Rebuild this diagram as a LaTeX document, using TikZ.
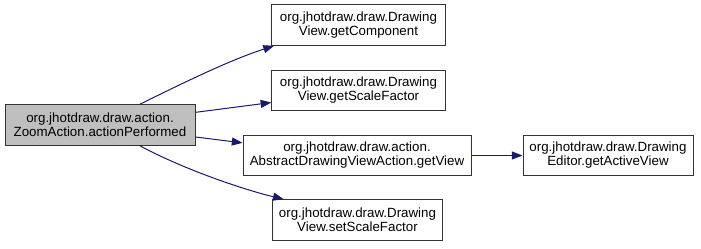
\documentclass[tikz,border=0pt]{standalone}
\usepackage{fontspec}
\setmainfont{Liberation Sans}
\definecolor{EdgeNavy}{HTML}{191970}
\definecolor{RootGrey}{HTML}{BFBFBF}
\usetikzlibrary{arrows.meta}

\begin{document}
\begin{tikzpicture}[x=0.75pt,y=-0.75pt,
          fn/.style={draw=black!80,line width=0.75pt,fill=white,
                     rectangle,inner sep=0pt,align=center,
                     minimum height=30.5pt,font=\fontsize{10}{10.5}\selectfont},
          ar/.style={-{Triangle[length=8pt,width=6pt]},line width=0.75pt,EdgeNavy}]
        \useasboundingbox (0,0) rectangle (701,248);
        % caller
        \node[fn,fill=RootGrey,minimum width=142.5pt] (R) at (100,125)
            {org.jhotdraw.draw.action.\\ZoomAction.actionPerformed};
        % callees
        \node[fn,minimum width=130pt] (C1) at (358.5,25)
            {org.jhotdraw.draw.Drawing\\View.getComponent};
        \node[fn,minimum width=130pt] (C2) at (358.5,90.5)
            {org.jhotdraw.draw.Drawing\\View.getScaleFactor};
        \node[fn,minimum width=171pt] (C3) at (357,155.5)
            {org.jhotdraw.draw.action.\\AbstractDrawingViewAction.getView};
        \node[fn,minimum width=127.5pt] (C4) at (608,155.5)
            {org.jhotdraw.draw.Drawing\\Editor.getActiveView};
        \node[fn,minimum width=128pt] (C5) at (357.5,220)
            {org.jhotdraw.draw.Drawing\\View.setScaleFactor};
        \draw[ar] ([xshift=30pt]R.north) .. controls (185,82) and (230,60) .. ([xshift=2pt]C1.south west);
        \draw[ar] ([yshift=9.5pt]R.east) -- ([yshift=-9pt]C2.west);
        \draw[ar] ([yshift=-9pt]R.east) -- ([yshift=9.5pt]C3.west);
        \draw[ar] ([xshift=30pt]R.south) .. controls (185,170) and (245,190) .. ([xshift=9pt]C5.north west);
        \draw[ar] (C3) -- (C4);
      \end{tikzpicture}
\end{document}
